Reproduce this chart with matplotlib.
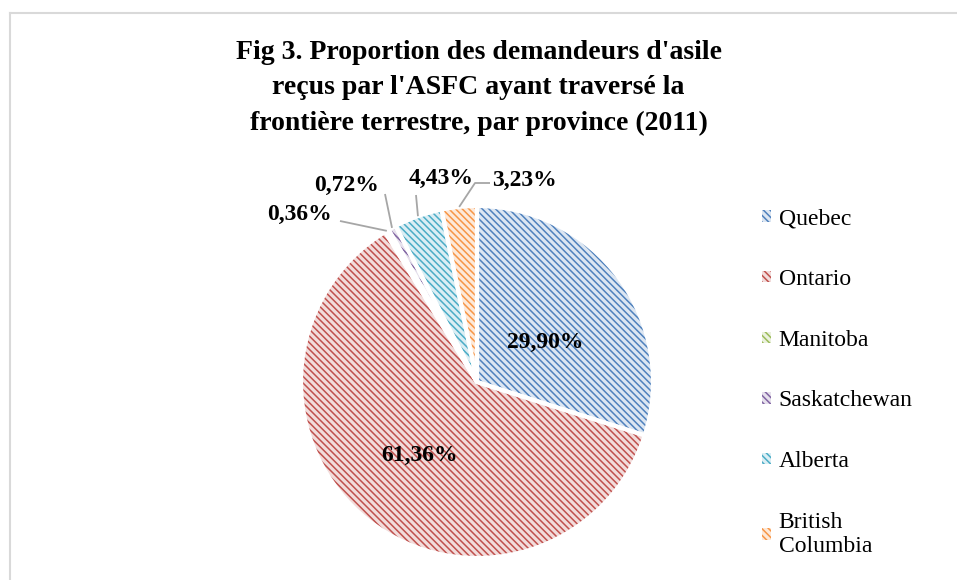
import matplotlib
matplotlib.use("Agg")
import matplotlib.pyplot as plt
from matplotlib.patches import Patch
from matplotlib.lines import Line2D
import numpy as np

plt.rcParams['font.family'] = ['Liberation Serif', 'DejaVu Serif']
plt.rcParams['hatch.linewidth'] = 1.1

categories = ["Quebec", "Ontario", "Manitoba", "Saskatchewan", "Alberta", "British\nColumbia"]
values = [29.90, 61.36, 0.36, 0.72, 4.43, 3.23]
labels = ["29,90%", "61,36%", "0,36%", "0,72%", "4,43%", "3,23%"]
title = "Fig 3. Proportion des demandeurs d'asile\nreçus par l'ASFC ayant traversé la\nfrontière terrestre, par province (2011)"

dark = ["#4f81bd", "#c0504d", "#9bbb59", "#8064a2", "#4bacc6", "#f79646"]
light = ["#dce6f2", "#f2dcdb", "#ebf1de", "#e6e0ec", "#dbeef4", "#fde9d9"]
HATCH = '\\' * 5

W, H = 957, 580
fig = plt.figure(figsize=(W / 100, H / 100), dpi=100)

cx, cy, r = 477, 382, 176
ax = fig.add_axes([(cx - r) / W, (H - cy - r) / H, 2 * r / W, 2 * r / H])

wedges, _ = ax.pie(values, colors=light, startangle=90, counterclock=False,
                   radius=1, wedgeprops=dict(linewidth=0))
for w, c in zip(wedges, dark):
    w.set_hatch(HATCH)
    w.set_edgecolor(c)
    w.set_linewidth(0)
ax.pie(values, colors=['none'] * len(values), startangle=90, counterclock=False,
       radius=1, wedgeprops=dict(linewidth=3, edgecolor='white'))
ax.set_xlim(-1, 1)
ax.set_ylim(-1, 1)
ax.axis('off')

cum = np.cumsum([0] + values[:-1])
mids = np.deg2rad(90 - 360 * (cum + np.array(values) / 2) / 100)
edges = [(np.cos(a), np.sin(a)) for a in mids]

fs = 17
inside = {0: (0.45, np.deg2rad(30)), 1: (0.53, None)}
for i, (rad, ang) in inside.items():
    a = mids[i] if ang is None else ang
    ax.text(rad * np.cos(a), rad * np.sin(a), labels[i], ha='center', va='center',
            fontsize=fs, fontweight='bold')

def px(x, y):
    return ((x - cx) / r, (cy - y) / r)

gray = "#a6a6a6"
out = {
    2: ((300, 214), [(340, 221)]),
    3: ((347, 185), [(385, 194)]),
    4: ((441, 178), [(416, 195)]),
    5: ((524, 180), [(490, 183), (475, 183)]),
}
for i, (tp, path) in out.items():
    tx, ty = px(*tp)
    ax.text(tx, ty, labels[i], ha='center', va='center', fontsize=fs, fontweight='bold')
    ex, ey = edges[i]
    pts = [px(*p) for p in path] + [(ex, ey)]
    ax.plot([p[0] for p in pts], [p[1] for p in pts], color=gray, lw=1.3,
            solid_capstyle='butt', clip_on=False)

fig.text(0.5, (H - 88) / H, title, ha='center', va='center', fontsize=20,
         fontweight='bold', linespacing=1.55)

handles = [Patch(facecolor=l, edgecolor=d, hatch=HATCH, linewidth=0)
           for l, d in zip(light, dark)]
leg = fig.legend(handles, categories, loc='upper left', bbox_to_anchor=(753 / W, 1 - 199 / H),
                 frameon=False, fontsize=17, handlelength=0.38, handleheight=0.38,
                 handletextpad=0.3, labelspacing=1.68, borderaxespad=0)

fig.add_artist(Line2D([10 / W, 10 / W], [0, 1 - 12.5 / H], color="#d9d9d9", lw=1.5,
                      transform=fig.transFigure))
fig.add_artist(Line2D([10 / W, 1], [1 - 12.5 / H, 1 - 12.5 / H], color="#d9d9d9", lw=1.5,
                      transform=fig.transFigure))

fig.savefig("out.png", dpi=100)
